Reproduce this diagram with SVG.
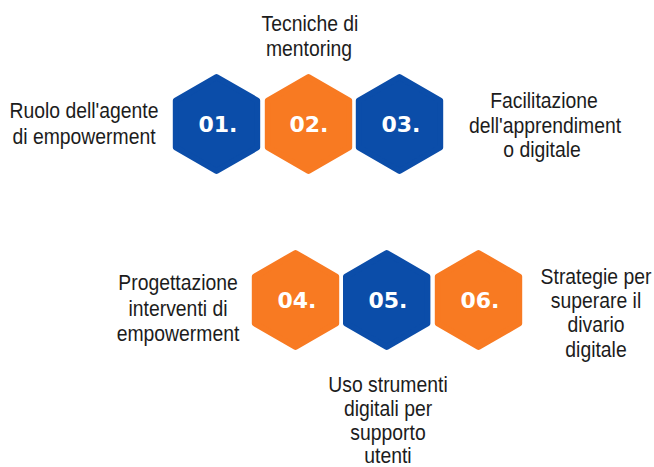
<svg xmlns="http://www.w3.org/2000/svg" width="654" height="467" viewBox="0 0 654 467">
<style>
.hex{stroke-width:6;stroke-linejoin:round}
.b{fill:#0B4DA9;stroke:#0B4DA9}
.o{fill:#F87A22;stroke:#F87A22}
.num{font-family:"DejaVu Sans",sans-serif;font-weight:bold;font-size:22px;fill:#fff;text-anchor:middle}
.lbl{font-family:"Liberation Sans",sans-serif;font-size:22px;fill:#1c1c1c;text-anchor:middle}
</style>
<defs>
<polygon id="h" points="0,-47 40.7,-23.5 40.7,23.5 0,47 -40.7,23.5 -40.7,-23.5"/>
</defs>
<rect width="654" height="467" fill="#fff"/>
<g id="n1"><use href="#h" class="hex b" x="216.5" y="124"/><text class="num" x="218" y="132">01.</text>
<text class="lbl" transform="matrix(0.88 0 0 1 84 118.3)">Ruolo dell'agente</text><text class="lbl" transform="matrix(0.88 0 0 1 84 143.5)">di empowerment</text></g>
<g id="n2"><use href="#h" class="hex o" x="308.5" y="124"/><text class="num" x="309" y="132">02.</text>
<text class="lbl" transform="matrix(0.88 0 0 1 310 31)">Tecniche di</text><text class="lbl" transform="matrix(0.88 0 0 1 309 56)">mentoring</text></g>
<g id="n3"><use href="#h" class="hex b" x="399.5" y="124"/><text class="num" x="401" y="132">03.</text>
<text class="lbl" transform="matrix(0.88 0 0 1 544 108)">Facilitazione</text><text class="lbl" transform="matrix(0.88 0 0 1 545 132.5)">dell'apprendiment</text><text class="lbl" transform="matrix(0.88 0 0 1 542 157)">o digitale</text></g>
<g id="n4"><use href="#h" class="hex o" x="295.5" y="300"/><text class="num" x="297" y="308">04.</text>
<text class="lbl" transform="matrix(0.88 0 0 1 178 290)">Progettazione</text><text class="lbl" transform="matrix(0.88 0 0 1 178 315.5)">interventi di</text><text class="lbl" transform="matrix(0.88 0 0 1 178 341)">empowerment</text></g>
<g id="n5"><use href="#h" class="hex b" x="386.7" y="300"/><text class="num" x="388" y="308">05.</text>
<text class="lbl" transform="matrix(0.88 0 0 1 388 392)">Uso strumenti</text><text class="lbl" transform="matrix(0.88 0 0 1 388 416)">digitali per</text><text class="lbl" transform="matrix(0.88 0 0 1 388 440)">supporto</text><text class="lbl" transform="matrix(0.88 0 0 1 388 463)">utenti</text></g>
<g id="n6"><use href="#h" class="hex o" x="478.5" y="300"/><text class="num" x="480" y="308">06.</text>
<text class="lbl" transform="matrix(0.88 0 0 1 596 284)">Strategie per</text><text class="lbl" transform="matrix(0.88 0 0 1 596 308)">superare il</text><text class="lbl" transform="matrix(0.88 0 0 1 596 332)">divario</text><text class="lbl" transform="matrix(0.88 0 0 1 596 357)">digitale</text></g>
<g id="connectors"/>
</svg>
